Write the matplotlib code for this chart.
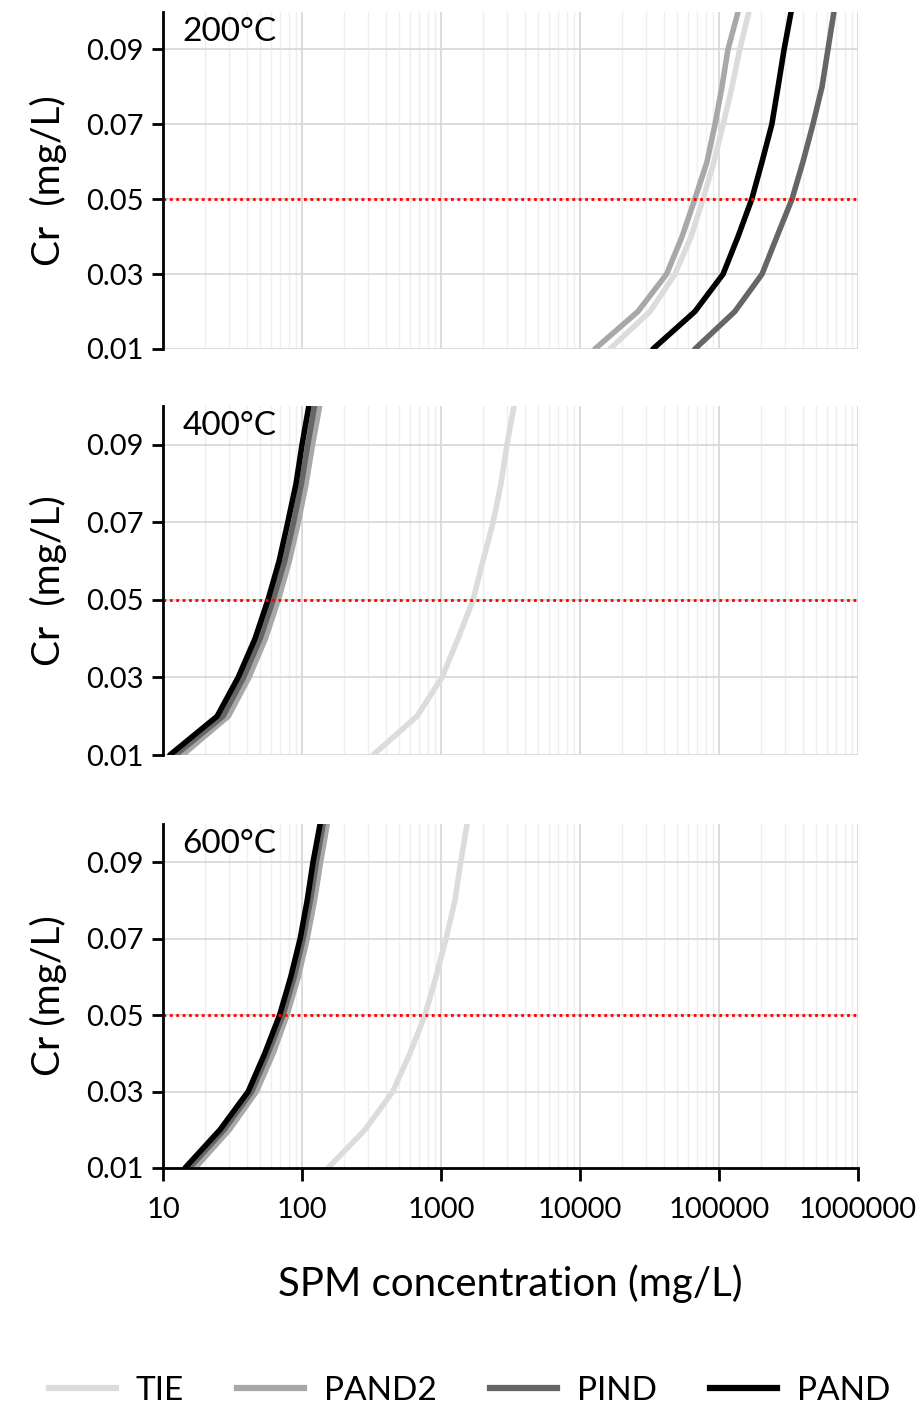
import numpy as np
import matplotlib.pyplot as plt
from matplotlib.lines import Line2D

plt.rcParams['font.family'] = ['Lato', 'DejaVu Sans']

# Cr levels (mg/L) at which SPM concentration was read
cr = [0.01, 0.02, 0.03, 0.04, 0.05, 0.06, 0.07, 0.08, 0.09, 0.10]

# 200 C
tie_200 = [16400, 31900, 48200, 63000, 76700, 92000, 107000, 124000, 141000, 164000]
pand2_200 = [12800, 26100, 42000, 54200, 67000, 82000, 93600, 105000, 116000, 137000]
pind_200 = [67100, 130000, 204000, 261000, 335000, 402000, 474000, 551000, 608000, 671000]
pand_200 = [33500, 67100, 107000, 137000, 172000, 204000, 240000, 266000, 294000, 330000]

# 400 C
tie_400 = [324, 672, 1016, 1325, 1700, 2000, 2370, 2700, 2980, 3350]
pand2_400 = [13.8, 29.5, 41.5, 54.5, 67.5, 81, 94, 107, 119, 134]
pind_400 = [12.3, 27, 38, 50, 62, 75, 87, 99, 110, 123]
pand_400 = [11.2, 24.5, 34.7, 45.9, 56.9, 68.4, 79, 90.6, 100, 112]

# 600 C
tie_600 = [154, 284, 450, 598, 767, 920, 1087, 1260, 1386, 1540]
pand2_600 = [17, 30, 47, 62, 78, 94, 109, 123, 136, 152]
pind_600 = [15.5, 27.5, 43.5, 57, 73, 88, 102, 115, 127, 142]
pand_600 = [14.4, 25.7, 41, 54, 69, 83, 97, 109, 120, 135]

names = ['TIE', 'PAND2', 'PIND', 'PAND']
colors = ['#dcdcdc', '#a8a8a8', '#666666', '#000000']
temps = ['200°C', '400°C', '600°C']
series = [
    [tie_200, pand2_200, pind_200, pand_200],
    [tie_400, pand2_400, pind_400, pand_400],
    [tie_600, pand2_600, pind_600, pand_600],
]
ylabels = ['Cr  (mg/L)', 'Cr  (mg/L)', 'Cr (mg/L)']
xticks = [10, 100, 1000, 10000, 100000, 1000000]

fig = plt.figure(figsize=(9.21, 14.06), dpi=100)
boxes = [
    [0.177, 0.7518, 0.7546, 0.2397],
    [0.177, 0.4630, 0.7546, 0.2482],
    [0.177, 0.1693, 0.7546, 0.2447],
]

for i, box in enumerate(boxes):
    ax = fig.add_axes(box)
    ax.set_xscale('log')
    ax.set_xlim(10, 1000000)
    ax.set_ylim(0.01, 0.10)
    ax.set_yticks([0.01, 0.03, 0.05, 0.07, 0.09])
    ax.set_yticklabels(['0.01', '0.03', '0.05', '0.07', '0.09'])
    ax.grid(True, which='major', color='#d9d9d9', lw=1.3)
    ax.grid(True, which='minor', axis='x', color='#efefef', lw=1.0)
    ax.set_axisbelow(True)
    for s in ['top', 'right']:
        ax.spines[s].set_visible(False)
    ax.spines['left'].set_linewidth(2)
    ax.tick_params(axis='y', direction='out', length=8, width=2, labelsize=21, pad=6)
    ax.tick_params(axis='x', which='minor', length=0)

    for vals, c in zip(series[i], colors):
        ax.plot(vals, cr, color=c, lw=4, solid_capstyle='round',
                solid_joinstyle='round')
    ax.axhline(0.05, color='#ff0000', ls=(0, (1, 1.3)), lw=2)

    ax.text(0.028, 0.985, temps[i], transform=ax.transAxes, fontsize=24,
            ha='left', va='top')
    ax.set_ylabel(ylabels[i], fontsize=28, labelpad=14)

    if i < 2:
        ax.spines['bottom'].set_visible(False)
        ax.tick_params(axis='x', which='both', length=0, labelbottom=False)
    else:
        ax.spines['bottom'].set_linewidth(2)
        ax.set_xticks(xticks)
        ax.set_xticklabels([str(t) for t in xticks])
        ax.tick_params(axis='x', which='major', direction='out', length=9,
                       width=2, labelsize=21, pad=12)
        ax.set_xlabel('SPM concentration (mg/L)', fontsize=29, labelpad=30)

handles = [Line2D([0], [0], color=c, lw=4.5) for c in colors]
fig.legend(handles, names, loc='center', bbox_to_anchor=(0.51, 0.011),
           ncol=4, frameon=False, fontsize=24, handlelength=2.0,
           columnspacing=1.6, handletextpad=0.6)

fig.savefig('out.png', dpi=100)
